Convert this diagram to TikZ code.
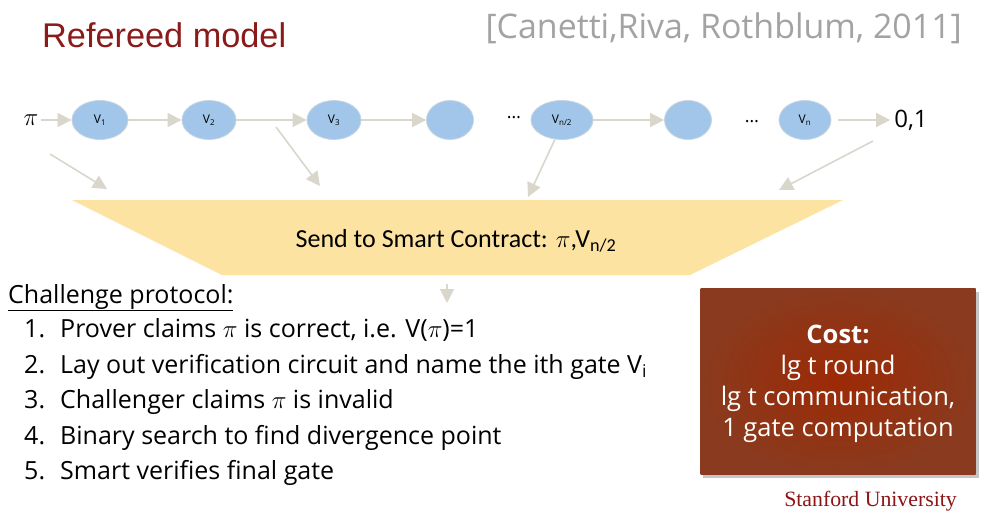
\documentclass[tikz,border=0pt]{standalone}
\usepackage{fontspec}
\setmainfont{Open Sans}
\newfontfamily\titlefont{Liberation Sans}
\newfontfamily\calfont{Carlito}
\newfontfamily\serifx{Liberation Serif}
\usetikzlibrary{shapes.geometric,arrows.meta}
\definecolor{ellfill}{HTML}{A2C6E9}
\definecolor{elldraw}{HTML}{C8D4DE}
\definecolor{arr}{HTML}{D9D7CC}
\definecolor{trap}{HTML}{FCE3A1}
\definecolor{titlered}{HTML}{8B1A1A}
\definecolor{citegray}{HTML}{A3A3A3}
\definecolor{stanford}{HTML}{8C1515}
\definecolor{costin}{HTML}{9C2A06}
\definecolor{costout}{HTML}{8A3A1E}
\tikzset{
  gate/.style={ellipse, fill=ellfill, draw=elldraw, line width=0.8pt, minimum height=39pt, inner sep=0pt, font=\fontsize{12}{14}\selectfont},
  flow/.style={draw=arr, line width=1.6pt, -{Triangle[length=14pt,width=14pt]}},
  item/.style={anchor=base west, font=\fontsize{25}{30}\selectfont, inner sep=0pt},
  num/.style={anchor=base west, font=\fontsize{25}{30}\selectfont, inner sep=0pt}
}
\begin{document}
\begin{tikzpicture}[x=1pt,y=-1pt]
\path[use as bounding box, fill=white] (0,0) rectangle (985,517);
% title
\node[anchor=west, inner sep=0pt, text=titlered, font=\titlefont\fontsize{34.3}{40}\selectfont] (title) at (42,35) {Refereed model};
\node[anchor=east, inner sep=0pt, text=citegray, font=\fontsize{33.9}{40}\selectfont] (cite) at (962,28) {[Canetti,Riva, Rothblum, 2011]};
% row
\node[inner sep=2pt, font=\fontsize{24}{28}\selectfont] (pi) at (31,120) {$\pi$};
\node[gate, minimum width=56pt] (v1) at (100,120) {V\textsubscript{1}};
\node[gate, minimum width=54pt] (v2) at (209,120) {V\textsubscript{2}};
\node[gate, minimum width=54pt] (v3) at (334,120) {V\textsubscript{3}};
\node[gate, minimum width=47pt] (v4) at (450,120) {};
\node[inner sep=0pt, font=\fontsize{18}{20}\selectfont] (d1) at (514,118) {\dots};
\node[gate, minimum width=62pt] (vh) at (562,120) {V\textsubscript{n/2}};
\node[gate, minimum width=47pt] (v5) at (688,120) {};
\node[inner sep=0pt, font=\fontsize{18}{20}\selectfont] (d2) at (752,122) {\dots};
\node[gate, minimum width=52pt] (vn) at (805,120) {V\textsubscript{n}};
\node[inner sep=0pt, font=\fontsize{24}{28}\selectfont] (out) at (911,120) {0,1};
\draw[flow] (pi) -- (v1);
\draw[flow] (v1) -- (v2);
\draw[flow] (v2) -- (v3);
\draw[flow] (v3) -- (v4);
\draw[flow] (vh) -- (v5);
\draw[flow, shorten <=7pt, shorten >=4pt] (vn) -- (out);
% trapezoid
\fill[trap] (72,200) -- (843,200) -- (690,275) -- (222,275) -- cycle;
\node[inner sep=0pt, font=\calfont\fontsize{26}{30}\selectfont] (send) at (456,241) {Send to Smart Contract: $\pi$,V\textsubscript{n/2}};
% diagonal arrows
\coordinate (a1s) at (50,154); \coordinate (a1e) at (107,189);
\coordinate (a2s) at (276,127); \coordinate (a2e) at (320,186);
\coordinate (a3e) at (528,197);
\coordinate (a4s) at (873,141); \coordinate (a4e) at (779,190);
\coordinate (a5s) at (447,284); \coordinate (a5e) at (447,303);
\draw[flow] (a1s) -- (a1e);
\draw[flow] (a2s) -- (a2e);
\draw[flow] (vh.250) -- (a3e);
\draw[flow] (a4s) -- (a4e);
\draw[flow] (a5s) -- (a5e);
% challenge protocol
\node[anchor=base west, inner sep=0pt, font=\fontsize{25}{30}\selectfont] (chal) at (8,303) {\underline{Challenge protocol:}};
\node[num] (n1) at (24,337) {1.};
\node[item] (t1) at (60,337) {Prover claims $\pi$ is correct, i.e. V($\pi$)=1};
\node[num] (n2) at (24,373) {2.};
\node[item] (t2) at (60,373) {Lay out verification circuit and name the ith gate V\textsubscript{i}};
\node[num] (n3) at (24,408) {3.};
\node[item] (t3) at (60,408) {Challenger claims $\pi$ is invalid};
\node[num] (n4) at (24,444) {4.};
\node[item] (t4) at (60,444) {Binary search to find divergence point};
\node[num] (n5) at (24,479) {5.};
\node[item] (t5) at (60,479) {Smart verifies final gate};
% cost box
\fill[black!45, opacity=0.5] (703,292) rectangle (979,478);
\node[minimum width=275pt, minimum height=186pt, inner sep=0pt, inner color=costin, outer color=costout] (costbg) at (838,381) {};
\node[align=center, text=white, font=\fontsize{25.5}{31}\selectfont] (cost) at (838,384) {\textbf{Cost:}\\lg t round\\lg t communication,\\1 gate computation};
\node[anchor=east, inner sep=0pt, text=stanford, font=\serifx\fontsize{21.8}{26}\selectfont] (su) at (957,501) {Stanford University};
\end{tikzpicture}
\end{document}
